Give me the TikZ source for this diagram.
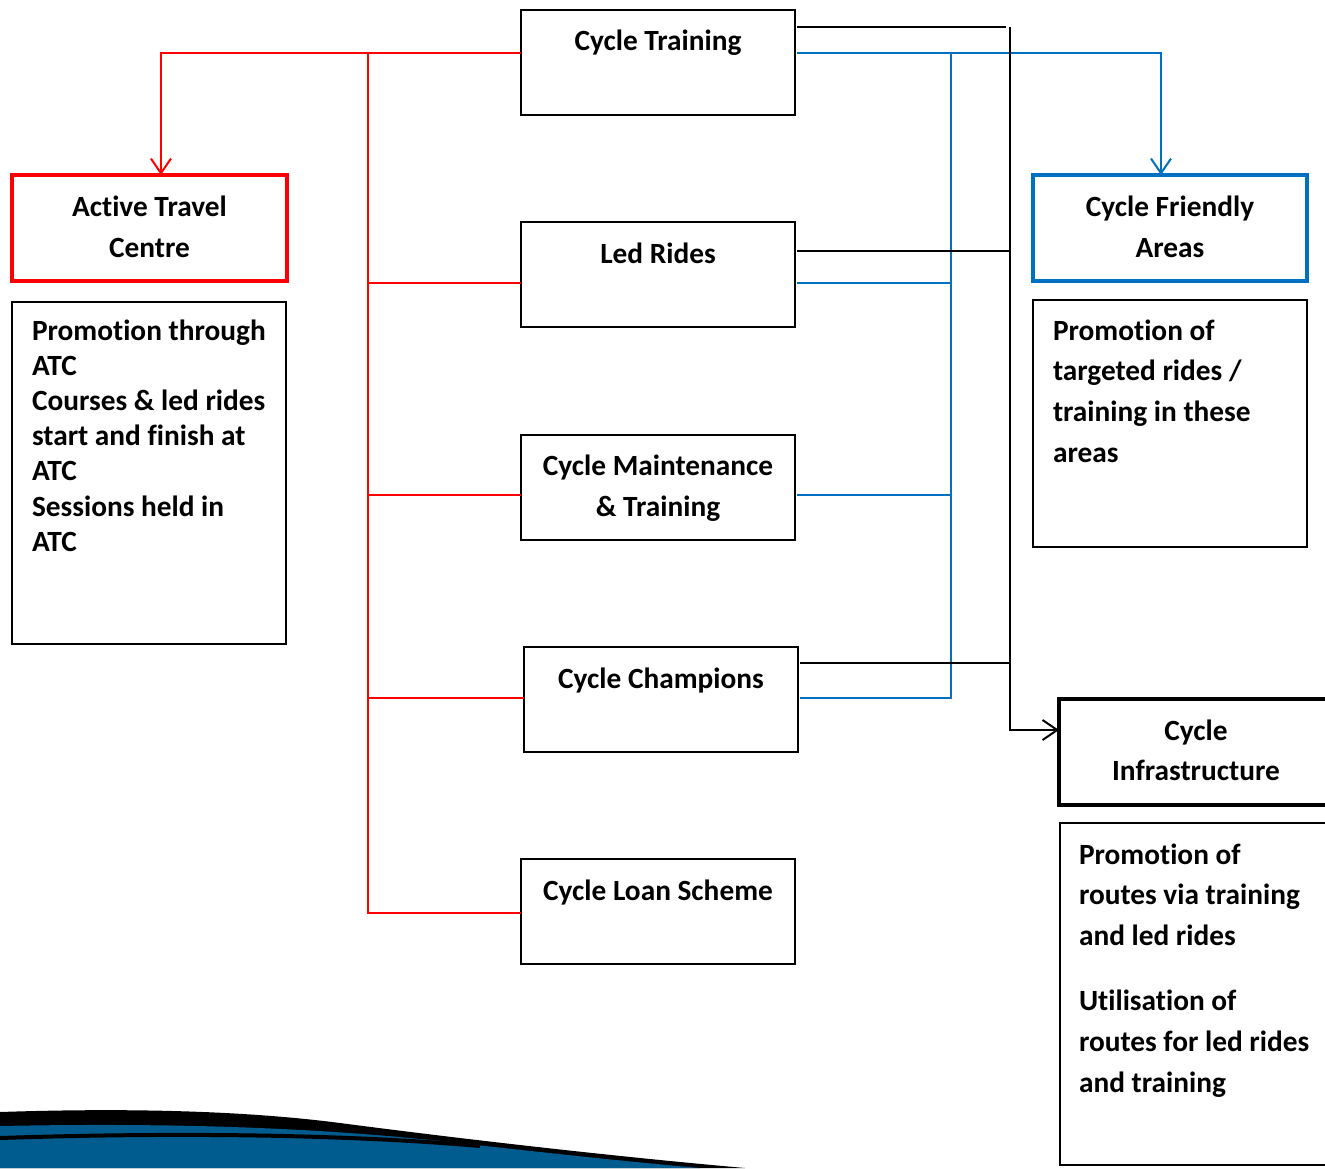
\documentclass[tikz,border=0pt]{standalone}
\usepackage{fontspec}
\setmainfont{Carlito}[Ligatures={NoCommon}]
\usetikzlibrary{arrows.meta}
\definecolor{lineblue}{RGB}{0,112,192}
\definecolor{swblue}{RGB}{0,92,143}
\newcommand\ts{\rule{0pt}{16pt}}
\begin{document}
\begin{tikzpicture}[x=0.75pt,y=-0.75pt,
  every node/.style={font=\fontsize{22}{30.75}\selectfont\bfseries, inner sep=0pt, outer sep=0pt},
  box/.style={draw, line width=1.5pt, minimum width=205.5pt, minimum height=78.75pt},
  redbox/.style={draw=red, line width=2.6pt, minimum width=206.25pt, minimum height=79.5pt},
  bluebox/.style={draw=lineblue, line width=2.6pt, minimum width=205.5pt, minimum height=79.5pt},
  blackbox/.style={draw, line width=2.6pt, minimum width=205.5pt, minimum height=79.5pt},
  descbox/.style={draw, line width=1.5pt, minimum width=205.5pt},
  lbl/.style={anchor=base},
  mlbl/.style={anchor=north, align=center},
  dlbl/.style={anchor=north west, align=left},
  redl/.style={draw=red, line width=1.5pt},
  bluel/.style={draw=lineblue, line width=1.5pt},
  blackl/.style={draw=black, line width=1.5pt},
  tip/.style={-{Straight Barb[length=11pt,width=15pt]}}]
\clip (0,0) rectangle (1325,1168);
% boxes
\node[box] (ct) at (658,62.5) {};
\node[box] (lr) at (658,274.5) {};
\node[box] (cmt) at (658,487) {};
\node[box] (cc) at (661,699.5) {};
\node[box] (cls) at (658,911.5) {};
\node[redbox] (atc) at (149.5,228) {};
\node[descbox, minimum height=256.5pt] (atcd) at (149,473) {};
\node[bluebox] (cfa) at (1170,228) {};
\node[descbox, minimum height=185.25pt] (cfad) at (1170,423.5) {};
\node[blackbox] (ci) at (1196,752) {};
\node[descbox, minimum height=256.5pt] (cid) at (1197,994) {};
% labels
\node[lbl] (ctt) at (658,50) {Cycle Training};
\node[lbl] (lrt) at (658,263) {Led Rides};
\node[mlbl] (cmtt) at (658,453.67) {\ts Cycle Maintenance\\ \& Training};
\node[lbl] (cct) at (661,688) {Cycle Champions};
\node[lbl] (clst) at (658,900) {Cycle Loan Scheme};
\node[mlbl] (atct) at (149.5,194.67) {\ts Active Travel\\ Centre};
\node[mlbl] (cfat) at (1170,194.67) {\ts Cycle Friendly\\ Areas};
\node[mlbl, font=\fontsize{22}{30}\selectfont\bfseries] (cit) at (1196,718.67) {\ts Cycle\\ Infrastructure};
\node[dlbl, font=\fontsize{22}{26.4}\selectfont\bfseries] (atcdt) at (32,318.67)
  {\ts Promotion through\\ ATC\\ Courses \& led rides\\ start and finish at\\ ATC\\ Sessions held in\\ ATC};
\node[dlbl, font=\fontsize{22}{30.5}\selectfont\bfseries] (cfadt) at (1053,318.67)
  {\ts Promotion of\\ targeted rides /\\ training in these\\ areas};
\node[dlbl, font=\fontsize{22}{30.4}\selectfont\bfseries] (cidt) at (1079,842.67)
  {\ts Promotion of\\ routes via training\\ and led rides\\[19pt] Utilisation of\\ routes for led rides\\ and training};
% red connectors
\coordinate (rtop) at (368,53);
\coordinate (rbot) at (368,913);
\draw[redl, tip] (ct.west |- rtop) -| ([xshift=8.6pt]atc.north);
\draw[redl] (rtop) -- (rbot) -- (cls.west |- rbot);
\draw[redl] (rtop |- 0,283) -- (lr.west |- 0,283);
\draw[redl] (rtop |- 0,495) -- (cmt.west |- 0,495);
\draw[redl] (rtop |- 0,698) -- (cc.west |- 0,698);
% blue connectors
\coordinate (btop) at (951,53);
\coordinate (bbot) at (951,698);
\draw[bluel, tip] ([xshift=1.5pt]ct.east |- btop) -| ([xshift=-6.75pt]cfa.north);
\draw[bluel] (btop) -- (bbot) -- ([xshift=1.5pt]cc.east |- bbot);
\draw[bluel] ([xshift=1.5pt]lr.east |- 0,283) -- (btop |- 0,283);
\draw[bluel] ([xshift=1.5pt]cmt.east |- 0,495) -- (btop |- 0,495);
% black connectors
\coordinate (ktop) at (1010,27);
\coordinate (kbot) at (1010,730);
\draw[blackl] ([xshift=1.5pt]ct.east |- 0,26.5) -- (1006,26.5);
\draw[blackl, tip] (ktop) -- (kbot) -- (ci.west |- kbot);
\draw[blackl] ([xshift=1.5pt]lr.east |- 0,251) -- (ktop |- 0,251);
\draw[blackl] ([xshift=1.5pt]cc.east |- 0,663) -- (ktop |- 0,663);
% swoosh
\fill[black] (0,1112) .. controls (120,1108) and (240,1110) .. (340,1123) .. controls (470,1140) and (620,1157) .. (745,1168) -- (0,1168) -- cycle;
\fill[swblue] (0,1126) .. controls (150,1123) and (300,1126) .. (440,1141) .. controls (540,1152) and (620,1161) .. (700,1168) -- (0,1168) -- cycle;
\draw[black, line width=3pt] (0,1138) .. controls (150,1133) and (330,1133) .. (480,1146);
\end{tikzpicture}
\end{document}
